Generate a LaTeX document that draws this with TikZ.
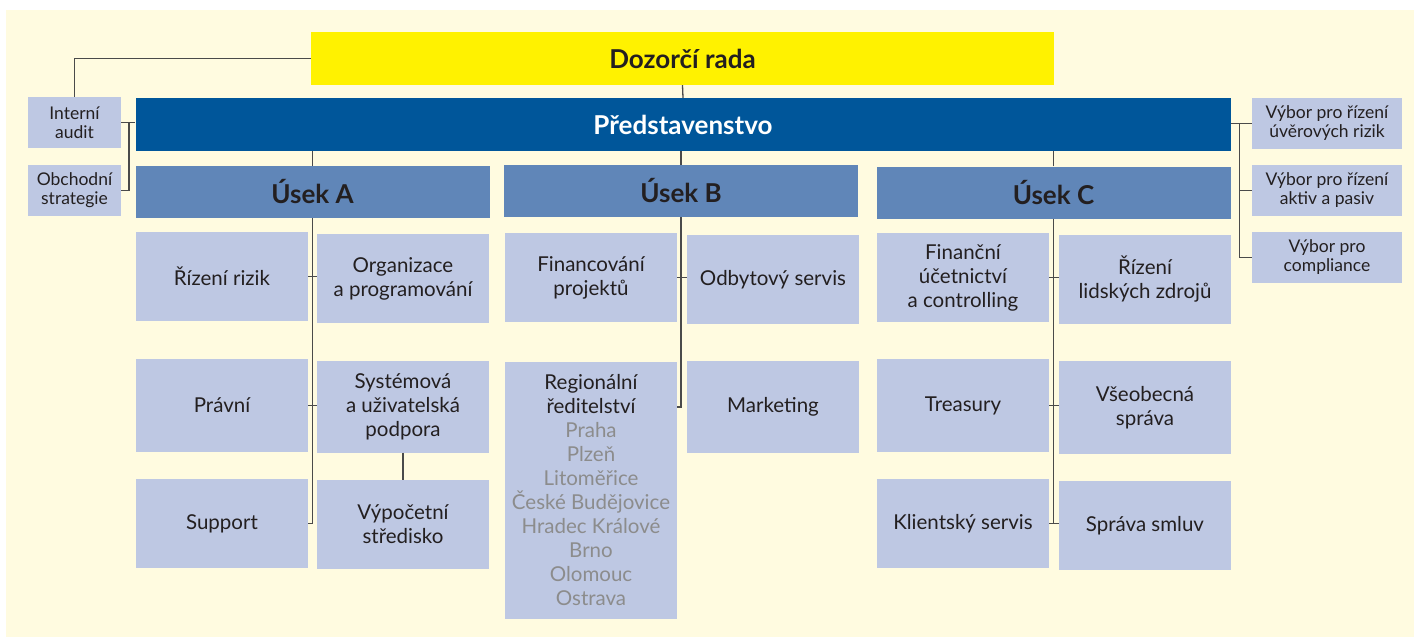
\documentclass[tikz,border=0pt]{standalone}
\usepackage{fontspec}
\setmainfont{Lato}
\usetikzlibrary{calc, positioning}

\definecolor{bgcream}{HTML}{FFFBE0}
\definecolor{boardyellow}{HTML}{FFF200}
\definecolor{boardblue}{HTML}{00569A}
\definecolor{unitblue}{HTML}{6086B8}
\definecolor{boxlight}{HTML}{BEC8E3}
\definecolor{txtdark}{HTML}{231F20}
\definecolor{txtgray}{HTML}{8C8C8C}
\definecolor{linegray}{HTML}{4A4A4A}

\newcommand{\city}[1]{\textcolor{txtgray}{#1}}

\begin{document}
\begin{tikzpicture}[x=1pt, y=-1pt,
    box/.style={fill=#1, inner sep=0pt, align=center, text=txtdark},
    head/.style={box=#1, font=\fontsize{26}{30}\selectfont\bfseries},
    unit/.style={head=unitblue, minimum width=354pt, minimum height=52pt},
    sub/.style={box=boxlight, minimum width=172pt, minimum height=#1,
                font=\fontsize{20.5}{24}\selectfont},
    side/.style={box=boxlight, minimum width=#1, minimum height=51pt,
                 font=\fontsize{17.5}{19}\selectfont},
    conn/.style={draw=linegray, line width=1.3pt},
]
\useasboundingbox (0,0) rectangle (1414,637);
\fill[bgcream] (6,10) rectangle (1414,637);

% top levels
\node[head=boardyellow, minimum width=743pt, minimum height=53pt] (dozor) at (682.5,58.5) {Dozorčí rada};
\node[head=boardblue, text=white, minimum width=1095pt, minimum height=53pt] (predst) at (683,124.5) {Představenstvo};
\node[unit] (usekA) at (312.5,192) {Úsek A};
\node[unit] (usekB) at (681,191) {Úsek B};
\node[unit] (usekC) at (1053.5,192.5) {Úsek C};

% side boxes
\node[side=93pt] (audit) at (74.5,122.5) {Interní\\audit};
\node[side=93pt] (obchod) at (74.5,190.5) {Obchodní\\strategie};
\node[side=150pt] (uver) at (1327,123.5) {Výbor pro řízení\\úvěrových rizik};
\node[side=150pt] (aktiv) at (1327,190.5) {Výbor pro řízení\\aktiv a pasiv};
\node[side=150pt] (compl) at (1327,257.5) {Výbor pro\\compliance};

% usek A
\node[sub=89pt] (rizeni) at (222,276.5) {Řízení rizik};
\node[sub=89pt] (organiz) at (403,278.5) {Organizace\\a programování};
\node[sub=93pt] (pravni) at (222,405.5) {Právní};
\node[sub=92pt] (system) at (403,406.5) {Systémová\\a uživatelská\\podpora};
\node[sub=89pt] (support) at (222,523.5) {Support};
\node[sub=89pt] (vypocet) at (403,524.5) {Výpočetní\\středisko};

% usek B
\node[sub=89pt] (financ) at (591,277.5) {Financování\\projektů};
\node[sub=89pt] (odbyt) at (773,279.5) {Odbytový servis};
\node[sub=257pt] (region) at (591,490.5) {Regionální\\ředitelství\\\city{Praha}\\\city{Plzeň}\\\city{Litoměřice}\\\city{České Budějovice}\\\city{Hradec Králové}\\\city{Brno}\\\city{Olomouc}\\\city{Ostrava}};
\node[sub=92pt] (market) at (773,407) {Marketing};

% usek C
\node[sub=89pt] (ucetni) at (963,277.5) {Finanční\\účetnictví\\a controlling};
\node[sub=89pt] (lidske) at (1145,279.5) {Řízení\\lidských zdrojů};
\node[sub=93pt] (treasury) at (963,405.5) {Treasury};
\node[sub=93pt] (sprava) at (1145,407.5) {Všeobecná\\správa};
\node[sub=89pt] (klient) at (963,523.5) {Klientský servis};
\node[sub=89pt] (smlouvy) at (1145,525.5) {Správa smluv};

% connectors, top
\draw[conn] (dozor.south) -- (predst.north);
\draw[conn] (dozor.west) -| (audit.north);
\draw[conn] (audit.east) -- (audit.east -| predst.west);
\coordinate (ljoin) at ($(audit.east)!0.55!(audit.east -| predst.west)$);
\draw[conn] (ljoin) |- (obchod.east);
\draw[conn] (predst.east |- uver.west) -- (uver.west);
\coordinate (rjoin) at ($(predst.east |- uver.west)!0.4!(uver.west)$);
\draw[conn] (rjoin) |- (compl.west);
\draw[conn] (rjoin |- aktiv.west) -- (aktiv.west);
\foreach \u in {usekA, usekB, usekC}
  \draw[conn] (\u.north) -- (\u.north |- predst.south);

% connectors, usek A
\draw[conn] (usekA.south) |- (support.east);
\draw[conn] (rizeni.east) -- (rizeni.east -| organiz.west);
\draw[conn] (pravni.east) -- (pravni.east -| system.west);
\draw[conn] (system.south) -- (vypocet.north);

% connectors, usek B
\draw[conn] (usekB.south) |- (market.west -| region.east);
\draw[conn] (financ.east) -- (financ.east -| odbyt.west);

% connectors, usek C
\draw[conn] (usekC.south) -- (usekC.south |- klient.east);
\foreach \l/\r in {ucetni/lidske, treasury/sprava, klient/smlouvy}
  \draw[conn] (\l.east) -- (\l.east -| \r.west);
\end{tikzpicture}
\end{document}
